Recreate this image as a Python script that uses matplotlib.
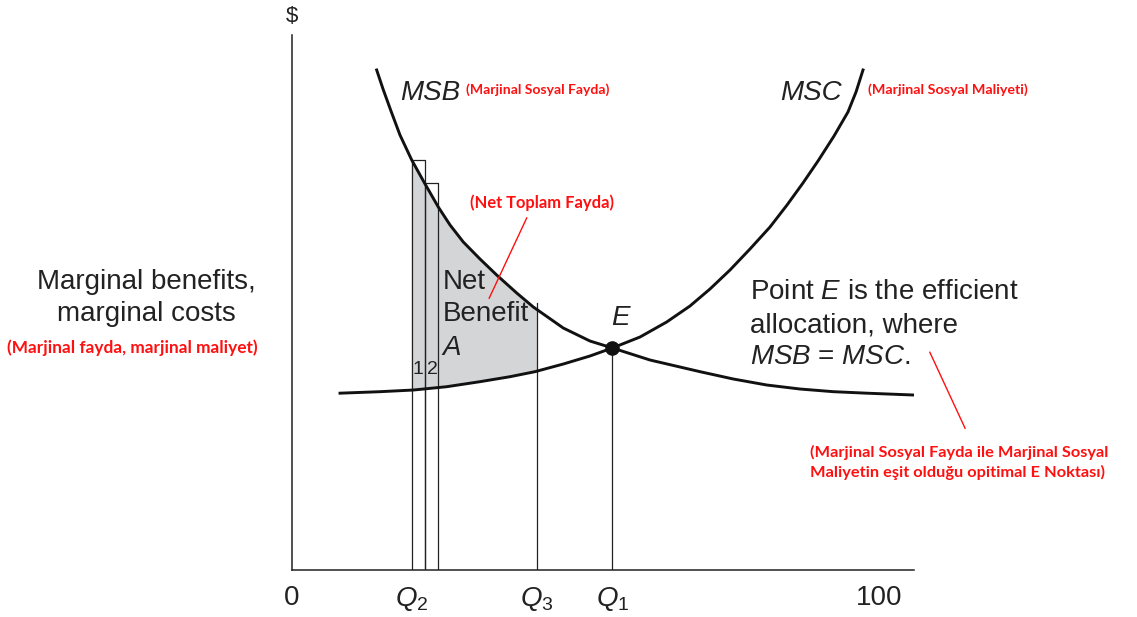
import matplotlib.pyplot as plt
import numpy as np

plt.rcParams['font.family'] = ['Liberation Sans', 'DejaVu Sans']
plt.rcParams['mathtext.fontset'] = 'custom'
plt.rcParams['mathtext.rm'] = 'Liberation Sans'
plt.rcParams['mathtext.it'] = 'Liberation Sans:italic'

# curves (quantity 0..106, $ 0..100)
msb_x = [14.43, 15.51, 16.87, 18.40, 20.40, 22.58, 24.93, 26.93, 29.19, 32.04, 34.88,
         38.29, 41.12, 46.23, 50.78, 54.6, 61.01, 69.53, 75.20, 80.89, 86.57, 92.25,
         97.94, 105.88]
msb_y = [93.46, 89.91, 85.79, 81.31, 76.64, 72.34, 67.85, 64.49, 61.31, 58.13, 55.14,
         51.78, 49.16, 45.23, 42.80, 41.5, 39.25, 37.07, 35.70, 34.58, 33.83, 33.33,
         33.05, 32.71]
msc_x = [8.18, 15.00, 20.67, 26.36, 32.04, 37.15, 41.41, 46.23, 50.78, 54.6, 59.31,
         63.86, 67.83, 71.23, 74.64, 78.05, 81.46, 84.36, 87.08, 89.64, 92.37, 94.75,
         96.12, 97.31]
msc_y = [33.05, 33.33, 33.64, 34.26, 35.20, 36.13, 37.07, 38.50, 40.00, 41.5, 43.55,
         46.36, 49.35, 52.52, 56.07, 60.00, 64.11, 68.22, 72.34, 76.45, 81.12, 85.61,
         89.35, 93.46]

q2, q2b, q2c = 20.4, 22.6, 24.9   # edges of the two little bars
bar_tops = [76.6, 72.3]
q3, q1 = 41.75, 54.6
e_y = 41.5

tick_pos = [0, q2, q3, q1, 100]
tick_lab = ['0', '$Q_2$', '$Q_3$', '$Q_1$', '100']

W, H = 1137, 617
INK = '#222222'
RED = '#ff1010'
RED_FONT = ['Lato', 'DejaVu Sans']

fig = plt.figure(figsize=(W / 100, H / 100), dpi=100)
ax = fig.add_axes([292 / W, (H - 570) / H, 622 / W, 535 / H])
ax.set_xlim(0, 106)
ax.set_ylim(0, 100)
for s in ['top', 'right']:
    ax.spines[s].set_visible(False)
for s in ['left', 'bottom']:
    ax.spines[s].set_linewidth(1.1)
    ax.spines[s].set_color(INK)
ax.set_yticks([])
ax.set_xticks(tick_pos)
ax.set_xticklabels(tick_lab, fontsize=20, color=INK)
ax.tick_params(axis='x', length=0, pad=11)


def fpx(x, y):
    """ pixel position -> figure fraction """
    return x / W, 1 - y / H


# shaded net benefit area between Q2 and Q3
xs_top = [q2] + [x for x in msb_x if q2 < x < q3] + [q3]
ys_top = list(np.interp(xs_top, msb_x, msb_y))
xs_bot = [q3] + [x for x in msc_x[::-1] if q2 < x < q3] + [q2]
ys_bot = list(np.interp(xs_bot, msc_x, msc_y))
ax.fill(xs_top + xs_bot, ys_top + ys_bot, color='#d4d5d7', lw=0, zorder=1)

# the two small bars
for (l, r), top in zip([(q2, q2b), (q2b, q2c)], bar_tops):
    ax.plot([l, l, r, r], [0, top, top, 0], color=INK, lw=0.9, zorder=2)

ax.plot([q3, q3], [0, np.interp(q3, msb_x, msb_y) + 1.2], color=INK, lw=0.9, zorder=2)
ax.plot([q1, q1], [0, e_y], color=INK, lw=0.9, zorder=2)

ax.plot(msb_x, msb_y, color='#111111', lw=2.1, zorder=3, solid_joinstyle='round')
ax.plot(msc_x, msc_y, color='#111111', lw=2.1, zorder=3, solid_joinstyle='round')
ax.plot([q1], [e_y], 'o', color='#111111', ms=9.5, zorder=4)

# labels inside
ax.text(18.4, 89.2, 'MSB', fontsize=20, style='italic', va='center', color=INK)
ax.text(83.2, 89.2, 'MSC', fontsize=20, style='italic', va='center', color=INK)
ax.text(55.9, 47.1, 'E', fontsize=20, style='italic', ha='center', va='center', color=INK)
ax.text(25.7, 53.8, 'Net', fontsize=20, va='center', color=INK)
ax.text(25.7, 47.9, 'Benefit', fontsize=20, va='center', color=INK)
ax.text(25.7, 41.5, 'A', fontsize=20, style='italic', va='center', color=INK)
ax.text(21.4, 37.4, '1', fontsize=14, ha='center', va='center', color=INK)
ax.text(23.9, 37.4, '2', fontsize=14, ha='center', va='center', color=INK)

fig.text(*fpx(750, 292), 'Point $E$ is the efficient', fontsize=20, va='center', color=INK)
fig.text(*fpx(750, 325), 'allocation, where', fontsize=20, va='center', color=INK)
fig.text(*fpx(750, 357), '$MSB$ = $MSC$.', fontsize=20, va='center', color=INK)

fig.text(*fpx(292, 17), '$', fontsize=16, ha='center', va='center', color=INK)
fig.text(*fpx(146, 282), 'Marginal benefits,', fontsize=20, ha='center', va='center', color=INK)
fig.text(*fpx(146, 314), 'marginal costs', fontsize=20, ha='center', va='center', color=INK)

# red notes
fig.text(*fpx(466, 90), '(Marjinal Sosyal Fayda)', fontsize=10.1, weight='bold', va='center',
         color=RED, family=RED_FONT)
fig.text(*fpx(868, 90), '(Marjinal Sosyal Maliyeti)', fontsize=10.3, weight='bold', va='center',
         color=RED, family=RED_FONT)
fig.text(*fpx(470, 203), '(Net Toplam Fayda)', fontsize=11.9, weight='bold', va='center',
         color=RED, family=RED_FONT)
fig.text(*fpx(132, 348), '(Marjinal fayda, marjinal maliyet)', fontsize=12.4, weight='bold',
         ha='center', va='center', color=RED, family=RED_FONT)
fig.text(*fpx(810, 452), '(Marjinal Sosyal Fayda ile Marjinal Sosyal', fontsize=11.8,
         weight='bold', va='center', color=RED, family=RED_FONT)
fig.text(*fpx(810, 472), 'Maliyetin eşit olduğu opitimal E Noktası)', fontsize=11.8,
         weight='bold', va='center', color=RED, family=RED_FONT)

ax.plot([40.0, 33.6], [65.8, 50.8], color=RED, lw=1.0, zorder=5)
ax.plot([108.7, 114.7], [40.7, 26.5], color=RED, lw=1.0, zorder=5, clip_on=False)

fig.savefig('out.png', dpi=100)
